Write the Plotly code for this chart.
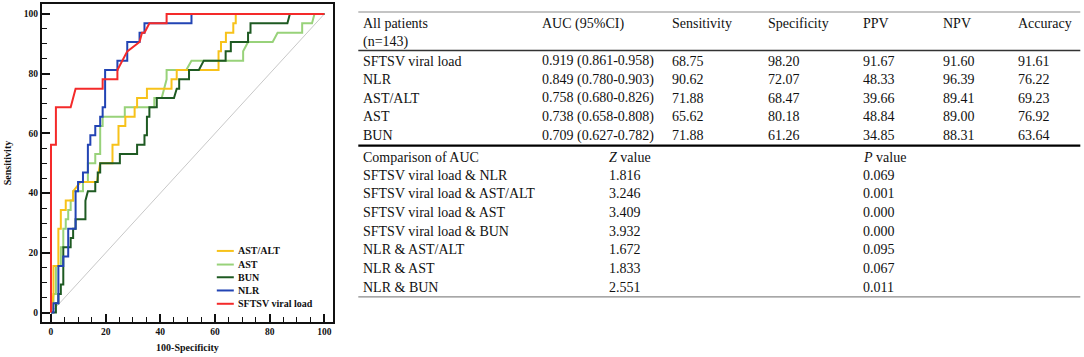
import plotly.graph_objects as go

W, H = 1084, 357
# plot-area edges in pixels
PL, PR, PT, PB = 41.7, 332.7, 4.0, 321.7

# ---------------- ROC data (100-Specificity, Sensitivity) ----------------
series_names = ["AST/ALT", "AST", "BUN", "NLR", "SFTSV viral load"]

astalt_x = [0, 0.9, 0.9, 2.7, 2.7, 3.6, 3.6, 5.4, 5.4, 8.1, 8.1, 10.8, 16.8, 18.0, 22.5, 22.5,
            24.7, 24.7, 27.2, 27.2, 30.6, 30.6, 31.5, 31.5, 35.1, 35.1, 44.1, 44.1, 46.0, 46.0,
            61.3, 61.3, 62.2, 62.2, 64.0, 64.0, 66.7, 66.7, 67.6, 67.6, 100]
astalt_y = [0, 6.25, 15.62, 15.62, 28.12, 28.12, 34.38, 34.38, 37.5, 37.5, 40.62, 43.75, 43.75, 50, 50, 56.25,
            56.25, 62.5, 62.5, 65.62, 65.62, 68.75, 68.75, 71.88, 71.88, 75, 75, 78.12, 78.12, 81.25,
            81.25, 87.5, 87.5, 90.62, 90.62, 93.75, 93.75, 96.88, 96.88, 100, 100]

ast_x = [0, 0.9, 0.9, 1.8, 1.8, 3.6, 3.6, 4.5, 4.5, 5.4, 5.4, 6.3, 6.3, 7.2, 7.2, 8.1, 8.1,
         11.7, 11.7, 13.5, 13.5, 16.2, 16.2, 18.0, 18.0, 18.9, 18.9, 27.0, 27.0, 37.8, 37.8,
         40.5, 42.3, 42.3, 49.5, 51.4, 70.3, 70.3, 72.1, 81.1, 82.9, 91.9, 91.9, 95.5, 96.4, 100]
ast_y = [0, 3.12, 6.25, 6.25, 15.62, 15.62, 21.88, 21.88, 28.12, 28.12, 31.25, 31.25, 34.38, 34.38, 37.5, 37.5, 40.62,
         40.62, 43.75, 43.75, 50, 50, 53.12, 53.12, 62.5, 62.5, 65.62, 65.62, 68.75, 68.75, 71.88,
         71.88, 78.12, 81.25, 81.25, 84.38, 84.38, 87.5, 90.62, 90.62, 93.75, 93.75, 96.88, 96.88, 100, 100]

bun_x = [0, 1.8, 1.8, 2.7, 2.7, 3.6, 3.6, 4.5, 4.5, 7.2, 7.2, 8.1, 8.1, 9.0, 9.0, 12.6, 12.6, 13.5,
         16.2, 16.2, 17.1, 17.1, 18.0, 18.0, 25.2, 25.2, 31.5, 31.5, 34.2, 34.2, 35.1, 35.1, 36.0, 36.0,
         38.7, 38.7, 45.0, 46.0, 46.9, 46.9, 50.5, 50.5, 54.1, 55.9, 63.9, 63.9, 65.8, 65.8, 72.1, 72.1,
         73.0, 73.0, 86.5, 87.4, 100]
bun_y = [0, 0, 3.12, 3.12, 6.25, 6.25, 9.38, 9.38, 21.88, 21.88, 25, 25, 28.12, 28.12, 31.25, 31.25, 37.5, 40.62,
         40.62, 43.75, 43.75, 46.88, 46.88, 50, 50, 53.12, 53.12, 56.25, 56.25, 59.38, 59.38, 65.62, 65.62, 68.75,
         68.75, 71.88, 71.88, 75, 75, 78.12, 78.12, 81.25, 81.25, 84.38, 84.38, 87.5, 87.5, 90.62, 90.62, 93.75,
         93.75, 96.88, 96.88, 100, 100]

nlr_x = [0, 0.9, 0.9, 2.7, 2.7, 4.5, 4.5, 6.3, 6.3, 9.0, 9.0, 9.9, 9.9, 11.7, 11.7, 13.5, 13.5,
         14.4, 14.4, 16.2, 16.2, 18.0, 18.0, 18.9, 18.9, 19.8, 19.8, 24.3, 24.3, 27.9, 27.9, 32.4, 32.4,
         34.2, 34.2, 51.4, 51.4, 100]
nlr_y = [0, 0, 3.12, 3.12, 15.62, 15.62, 18.75, 18.75, 28.12, 28.12, 40.62, 40.62, 43.75, 43.75, 46.88, 46.88, 56.25,
         56.25, 59.38, 59.38, 62.5, 62.5, 65.62, 65.62, 68.75, 68.75, 81.25, 81.25, 84.38, 84.38, 90.62, 90.62, 93.75,
         93.75, 96.88, 96.88, 100, 100]

sftsv_x = [0, 0, 1.8, 1.8, 7.2, 9.0, 18.9, 18.9, 24.3, 24.3, 27.9, 32.4, 33.3, 34.2, 36.0, 42.3, 42.3, 100]
sftsv_y = [0, 56.25, 56.25, 68.75, 68.75, 75, 75, 78.12, 78.12, 81.25, 87.5, 90.62, 93.75, 93.75, 96.88, 96.88, 100, 100]

ref_x = [0, 100]
ref_y = [0, 100]

tick_vals = [0, 20, 40, 60, 80, 100]

# ---------------- table data ----------------
header_label = ["All patients", "(n=143)"]
metric_cols = ["AUC (95%CI)", "Sensitivity", "Specificity", "PPV", "NPV", "Accuracy"]
markers = ["SFTSV viral load", "NLR", "AST/ALT", "AST", "BUN"]
auc_ci = ["0.919 (0.861-0.958)", "0.849 (0.780-0.903)", "0.758 (0.680-0.826)",
          "0.738 (0.658-0.808)", "0.709 (0.627-0.782)"]
sensitivity = [68.75, 90.62, 71.88, 65.62, 71.88]
specificity = [98.20, 72.07, 68.47, 80.18, 61.26]
ppv = [91.67, 48.33, 39.66, 48.84, 34.85]
npv = [91.60, 96.39, 89.41, 89.00, 88.31]
accuracy = [91.61, 76.22, 69.23, 76.92, 63.64]
comp_title = ["Comparison of AUC", "<i>Z</i> value", "<i>P</i> value"]
comparisons = ["SFTSV viral load & NLR", "SFTSV viral load & AST/ALT", "SFTSV viral load & AST",
               "SFTSV viral load & BUN", "NLR & AST/ALT", "NLR & AST", "NLR & BUN"]
z_values = ["1.816", "3.246", "3.409", "3.932", "1.672", "1.833", "2.551"]
p_values = ["0.069", "0.001", "0.000", "0.000", "0.095", "0.067", "0.011"]

# ---------------- styles ----------------
colors = {"AST/ALT": "#f7c21a", "AST": "#98d27a", "BUN": "#1e5a22",
          "NLR": "#2244b4", "SFTSV viral load": "#f42a2a"}
SERIF = "Liberation Serif"


def xp(px):
    return (px - PL) / (PR - PL)


def yp(py):
    return (PB - py) / (PB - PT)


fig = go.Figure()
fig.add_trace(go.Scatter(x=ref_x, y=ref_y, mode="lines",
                         line=dict(color="#c8c8c8", width=1), showlegend=False, hoverinfo="skip"))
curves = {"AST": (ast_x, ast_y), "AST/ALT": (astalt_x, astalt_y), "BUN": (bun_x, bun_y),
          "NLR": (nlr_x, nlr_y), "SFTSV viral load": (sftsv_x, sftsv_y)}
for name in ["AST", "AST/ALT", "BUN", "NLR", "SFTSV viral load"]:
    cx, cy = curves[name]
    fig.add_trace(go.Scatter(x=cx, y=cy, mode="lines", name=name,
                             line=dict(color=colors[name], width=2), showlegend=False))

shapes = []
annotations = []

# custom compact legend
leg_rows = [250.7, 264.3, 277.0, 290.2, 303.5]
for name, ry in zip(series_names, leg_rows):
    shapes.append(dict(type="line", xref="paper", yref="paper",
                       x0=xp(216.5), x1=xp(233.5), y0=yp(ry), y1=yp(ry),
                       line=dict(color=colors[name], width=2)))
    annotations.append(dict(xref="paper", yref="paper", x=xp(236.0), y=yp(ry), text=name,
                            xanchor="left", yanchor="middle", showarrow=False,
                            font=dict(family=SERIF, size=10, color="#111", weight="bold")))

# table
tfont = dict(family=SERIF, size=14, color="#111")
col_x = [539.5, 669.5, 766.0, 861.0, 941.0, 1016.0]
first_x = 360.5


def txt(px, py, s):
    annotations.append(dict(xref="paper", yref="paper", x=xp(px), y=yp(py), text=s,
                            xanchor="left", yanchor="middle", showarrow=False, font=tfont))


txt(first_x, 23.5, header_label[0])
txt(first_x, 42.0, header_label[1])
for cx, h in zip(col_x, metric_cols):
    txt(cx, 23.5, h)

row_y = [61.0, 79.6, 98.2, 116.8, 135.4]
for i, ry in enumerate(row_y):
    txt(first_x, ry, markers[i])
    txt(col_x[0], ry, auc_ci[i])
    for cx, arr in zip(col_x[1:], [sensitivity, specificity, ppv, npv, accuracy]):
        txt(cx, ry, f"{arr[i]:.2f}")

z_x, p_x = 607.0, 861.0
txt(first_x, 157.0, comp_title[0])
txt(z_x, 157.0, comp_title[1])
txt(p_x, 157.0, comp_title[2])
comp_y = [175.2, 193.8, 212.4, 231.0, 249.6, 268.2, 286.8]
for i, ry in enumerate(comp_y):
    txt(first_x, ry, comparisons[i])
    txt(z_x, ry, z_values[i])
    txt(p_x, ry, p_values[i])

for ly, col, wd in [(12.0, "#8a8a8a", 1.2), (50.5, "#333333", 1.5),
                    (145.5, "#000000", 2.2), (296.5, "#8a8a8a", 1.2)]:
    shapes.append(dict(type="line", xref="paper", yref="paper",
                       x0=xp(358), x1=xp(1080), y0=yp(ly), y1=yp(ly),
                       line=dict(color=col, width=wd)))

axis_common = dict(showline=True, mirror=True, linecolor="#111", linewidth=2,
                   showgrid=False, zeroline=False, ticks="inside", ticklen=8, tickwidth=1.5,
                   tickcolor="#111", tickvals=tick_vals,
                   tickfont=dict(family=SERIF, size=9.5, color="#111", weight="bold"),
                   minor=dict(dtick=5, ticks="inside", ticklen=5, tickwidth=1.2, tickcolor="#111"))

fig.update_layout(
    width=W, height=H,
    margin=dict(l=PL, r=W - PR, t=PT, b=H - PB, autoexpand=False),
    paper_bgcolor="white", plot_bgcolor="white",
    xaxis=dict(range=[-3.29, 103.18], title=dict(text="100-Specificity", standoff=8,
               font=dict(family=SERIF, size=10, color="#111", weight="bold")), **axis_common),
    yaxis=dict(range=[-3.15, 103.35], title=dict(text="Sensitivity", standoff=10,
               font=dict(family=SERIF, size=10, color="#111", weight="bold")), **axis_common),
    shapes=shapes, annotations=annotations,
)

fig.write_html("out.html", config={"displayModeBar": False},
               post_script="document.body.style.margin='0px';")
